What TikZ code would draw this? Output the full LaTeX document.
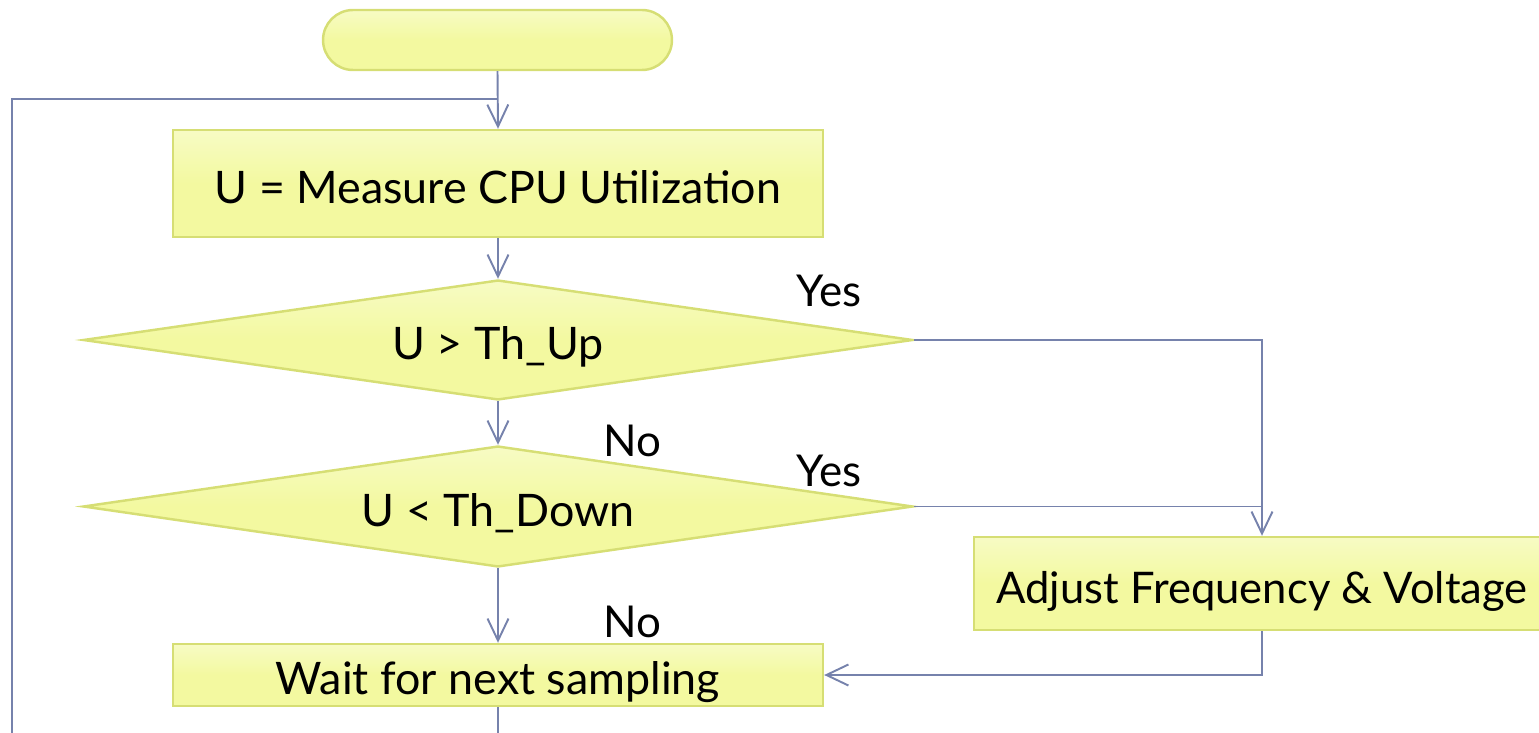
\documentclass[tikz,border=0pt]{standalone}
\usepackage{fontspec}
\setmainfont{Lato}
\usetikzlibrary{arrows.meta,shapes.geometric}

\definecolor{boxfill}{RGB}{243,249,160}
\definecolor{boxfilllight}{RGB}{247,251,196}
\definecolor{boxedge}{RGB}{214,222,116}
\definecolor{flowline}{RGB}{118,130,172}

\tikzset{
  stepfill/.style={draw=boxedge, line width=1.4pt,
    top color=boxfilllight, bottom color=boxfill, middle color=boxfill,
    font=\fontsize{25.5}{30}\selectfont, text=black, inner sep=0pt,
    text height=22.5pt, text depth=0pt},
  process/.style={stepfill, rectangle},
  decision/.style={stepfill, diamond, aspect=6.9},
  terminal/.style={stepfill, rectangle, rounded corners=0.6cm},
  flow/.style={draw=flowline, line width=1.1pt},
  flowarrow/.style={flow, -{Straight Barb[length=4.4mm,width=4.2mm,line width=1.1pt]}},
  answer/.style={font=\fontsize{25}{30}\selectfont, inner sep=0pt}
}

\begin{document}
\begin{tikzpicture}[x=0.02cm, y=-0.02cm]
  \useasboundingbox (0,0) rectangle (1539,733);

  % shapes of the flow chart
  \node[terminal, minimum width=6.98cm, minimum height=1.2cm] (start) at (497.5,40) {};
  \node[process, minimum width=13cm, minimum height=2.14cm] (measure) at (498,183.5) {U = Measure CPU Utilization};
  \node[decision, minimum width=16.6cm, minimum height=2.4cm] (up) at (498,340) {U > Th\_Up};
  \node[decision, minimum width=16.6cm, minimum height=2.42cm] (down) at (498,506.5) {U < Th\_Down};
  \node[process, minimum width=11.52cm, minimum height=1.86cm] (adjust) at (1262,583.5) {\fontsize{24.8}{30}\selectfont Adjust Frequency \& Voltage};
  \node[process, minimum width=13cm, minimum height=1.24cm] (wait) at (498,675) {Wait for next sampling};

  % answer labels
  \node[answer] (yesup) at (829,291) {Yes};
  \node[answer] (noup) at (632,441) {No};
  \node[answer] (yesdown) at (829,471) {Yes};
  \node[answer] (nodown) at (632,622) {No};

  % loop-back points
  \coordinate (merge) at (498,99);
  \coordinate (loopcorner) at (12,760);
  \coordinate (join) at (1262,506.5);

  % connectors
  \draw[flowarrow] (start.south) -- (measure.north);
  \draw[flowarrow] (measure.south) -- (up.north);
  \draw[flowarrow] (up.south) -- (down.north);
  \draw[flowarrow] (down.south) -- (wait.north);
  \draw[flowarrow] (up.east) -| (adjust.north);
  \draw[flow] (down.east) -- (join);
  \draw[flowarrow] (adjust.south) |- (wait.east);
  \draw[flow] (wait.south) |- (loopcorner) |- (merge);
\end{tikzpicture}
\end{document}
